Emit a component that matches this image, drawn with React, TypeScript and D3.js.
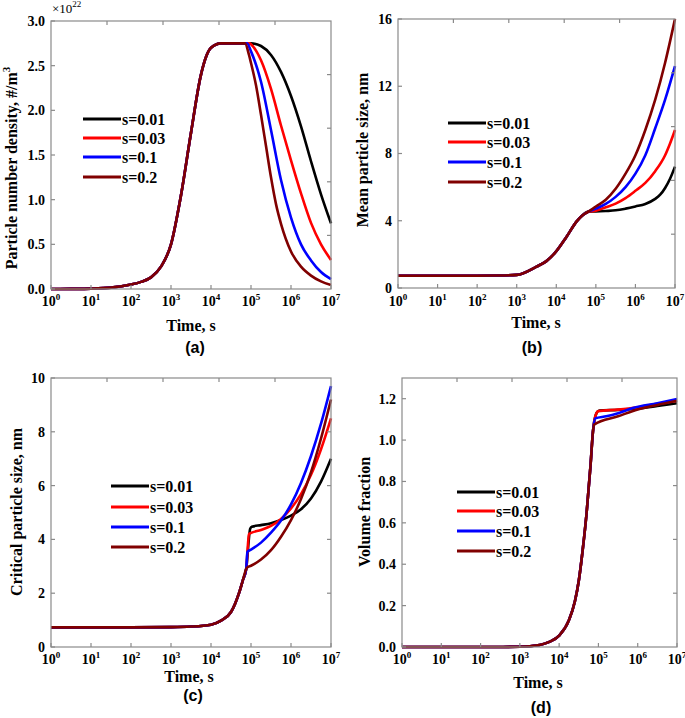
import React from 'react';
import * as d3 from 'd3';

// ---------- shared ----------
const seriesNames = ['s=0.01', 's=0.03', 's=0.1', 's=0.2'];
const seriesColors = ['#000000', '#ff0000', '#0000ff', '#800000'];
const decadeExponents = [0, 1, 2, 3, 4, 5, 6, 7];

// ---------- panel (a): particle number density (x1e22), [log10 t, value] ----------
const aCommon: [number, number][] = [[0, 0], [0.5, 0.001], [1, 0.004], [1.5, 0.015], [2, 0.05], [2.25, 0.08], [2.5, 0.13], [2.75, 0.25], [3, 0.5], [3.25, 1.05], [3.5, 1.75], [3.75, 2.4], [4, 2.7], [4.25, 2.75]];
const aS001: [number, number][] = [[5.0, 2.75], [5.25, 2.72], [5.5, 2.62], [5.75, 2.43], [6.0, 2.16], [6.25, 1.82], [6.5, 1.43], [6.75, 1.06], [7.0, 0.735]];
const aS003: [number, number][] = [[4.97, 2.75], [5.0, 2.74], [5.25, 2.56], [5.5, 2.24], [5.75, 1.83], [6.0, 1.44], [6.25, 1.07], [6.5, 0.74], [6.75, 0.5], [7.0, 0.325]];
const aS01: [number, number][] = [[4.9, 2.75], [5.0, 2.66], [5.25, 2.32], [5.5, 1.78], [5.75, 1.22], [6.0, 0.8], [6.25, 0.5], [6.5, 0.32], [6.75, 0.19], [7.0, 0.11]];
const aS02: [number, number][] = [[4.85, 2.75], [4.95, 2.62], [5.0, 2.53], [5.125, 2.28], [5.25, 1.95], [5.375, 1.6], [5.5, 1.25], [5.625, 0.95], [5.75, 0.73], [6.0, 0.42], [6.25, 0.25], [6.5, 0.15], [6.75, 0.085], [7.0, 0.045]];
const aYTicks = [0, 0.5, 1.0, 1.5, 2.0, 2.5, 3.0];

// ---------- panel (b): mean particle size, nm ----------
const bCommon: [number, number][] = [[0, 0.73], [1, 0.73], [2, 0.73], [2.5, 0.74], [3, 0.78], [3.5, 1.27], [3.75, 1.6], [3.96, 2.07], [4.26, 3.05], [4.51, 3.95], [4.65, 4.3], [4.81, 4.54]];
const bS001: [number, number][] = [[5.0, 4.55], [5.25, 4.58], [5.5, 4.62], [5.75, 4.72], [6.0, 4.85], [6.25, 5.0], [6.5, 5.3], [6.625, 5.55], [6.75, 5.95], [6.875, 6.5], [7.0, 7.22]];
const bS003: [number, number][] = [[5.0, 4.6], [5.25, 4.8], [5.5, 5.02], [5.75, 5.35], [6.0, 5.78], [6.25, 6.25], [6.5, 6.95], [6.75, 7.9], [6.875, 8.6], [7.0, 9.4]];
const bS01: [number, number][] = [[5.0, 4.72], [5.25, 5.0], [5.5, 5.42], [5.75, 6.0], [6.0, 6.8], [6.25, 7.9], [6.5, 9.5], [6.75, 11.2], [7.0, 13.2]];
const bS02: [number, number][] = [[5.0, 4.85], [5.25, 5.25], [5.5, 5.9], [5.75, 6.8], [6.0, 7.9], [6.25, 9.4], [6.5, 11.2], [6.75, 13.4], [7.0, 16.0]];
const bYTicks = [0, 4, 8, 12, 16];

// ---------- panel (c): critical particle size, nm ----------
const cCommon: [number, number][] = [[0, 0.73], [1, 0.73], [2, 0.73], [3, 0.74], [3.5, 0.76], [4, 0.83], [4.25, 0.98], [4.5, 1.3], [4.6, 1.6], [4.7, 2.0], [4.8, 2.5], [4.88, 2.9]];
const cS001: [number, number][] = [[4.98, 4.4], [5.02, 4.47], [5.25, 4.53], [5.5, 4.6], [5.75, 4.72], [6.0, 4.88], [6.25, 5.12], [6.5, 5.52], [6.75, 6.15], [7.0, 7.0]];
const cS003: [number, number][] = [[4.95, 4.2], [5.0, 4.24], [5.25, 4.35], [5.5, 4.5], [5.75, 4.76], [6.0, 5.15], [6.25, 5.68], [6.5, 6.4], [6.75, 7.35], [7.0, 8.5]];
const cS01: [number, number][] = [[4.91, 3.54], [5.0, 3.62], [5.25, 3.88], [5.5, 4.25], [5.75, 4.7], [6.0, 5.3], [6.25, 6.1], [6.5, 7.1], [6.75, 8.3], [7.0, 9.7]];
const cS02: [number, number][] = [[4.9, 2.95], [5.0, 3.02], [5.25, 3.25], [5.5, 3.6], [5.75, 4.1], [6.0, 4.72], [6.25, 5.5], [6.5, 6.5], [6.75, 7.75], [7.0, 9.2]];
const cYTicks = [0, 2, 4, 6, 8, 10];

// ---------- panel (d): volume fraction ----------
const dCommon: [number, number][] = [[0, 0], [1, 0], [2, 0], [3, 0.001], [3.5, 0.01], [3.75, 0.025], [4, 0.055], [4.25, 0.13], [4.4, 0.22], [4.5, 0.32], [4.6, 0.47], [4.7, 0.65], [4.8, 0.88], [4.86, 1.04]];
const dS001: [number, number][] = [[4.95, 1.13], [5.02, 1.143], [5.5, 1.146], [6, 1.152], [6.5, 1.165], [7, 1.178]];
const dS003: [number, number][] = [[4.95, 1.13], [5.0, 1.14], [5.5, 1.147], [6, 1.158], [6.5, 1.175], [7, 1.19]];
const dS01: [number, number][] = [[4.92, 1.105], [5.2, 1.115], [5.5, 1.13], [5.88, 1.155], [6.5, 1.178], [7, 1.198]];
const dS02: [number, number][] = [[4.89, 1.075], [5.5, 1.115], [6.0, 1.148], [6.5, 1.17], [7, 1.19]];
const dYTicks = [0, 0.2, 0.4, 0.6, 0.8, 1.0, 1.2];

const SERIF = "'Liberation Serif', 'Times New Roman', serif";
const SANS = "'Liberation Sans', Arial, sans-serif";
const AXIS_GRAY = '#8a8a8a';

type PanelCfg = {
  left: number; right: number; top: number; bottom: number;
  yDomain: [number, number]; yTicks: number[]; yFmt: (v: number) => string;
  common: [number, number][]; tails: [number, number][][];
  yLabel: React.ReactNode; yLabelX: number; yLabelY: number;
  xTickY: number; timeY: number; timeX: number;
  tag: string; tagX: number; tagY: number;
  legX: number; legY: number[];
  extra?: React.ReactNode;
};

function Panel({ c }: { c: PanelCfg }) {
  const x = d3.scaleLog().domain([1, 1e7]).range([c.left, c.right]);
  const y = d3.scaleLinear().domain(c.yDomain).range([c.bottom, c.top]);
  const xFrac = d3.scaleLinear().domain([0, 5]).range([c.left, c.right]);
  const yFrac = d3.scaleLinear().domain([0, 5]).range([c.bottom, c.top]);
  const line = d3.line<[number, number]>()
    .x(d => x(Math.pow(10, d[0])))
    .y(d => y(d[1]))
    .curve(d3.curveMonotoneX);
  const tl = 4;
  return (
    <g>
      {c.tails.map((tail, i) => (
        <path key={i} d={line(c.common.concat(tail)) || ''} fill="none"
          stroke={seriesColors[i]} strokeWidth={2.6} strokeLinejoin="round" />
      ))}
      <rect x={c.left} y={c.top} width={c.right - c.left} height={c.bottom - c.top}
        fill="none" stroke={AXIS_GRAY} strokeWidth={1.2} />
      {decadeExponents.map(e => {
        const px = x(Math.pow(10, e));
        return (
          <g key={'b' + e}>
            <line x1={px} x2={px} y1={c.bottom} y2={c.bottom - tl} stroke={AXIS_GRAY} strokeWidth={1.2} />
            <text x={px} y={c.xTickY} textAnchor="middle" fontFamily={SERIF} fontWeight="bold" fontSize={14}>
              10<tspan dy={-6} fontSize={9}>{e}</tspan>
            </text>
          </g>
        );
      })}
      {[1, 2, 3, 4].map(i => (
        <line key={'t' + i} x1={xFrac(i)} x2={xFrac(i)} y1={c.top} y2={c.top + tl} stroke={AXIS_GRAY} strokeWidth={1.2} />
      ))}
      {[1, 2, 3, 4].map(i => (
        <line key={'r' + i} x1={c.right} x2={c.right - tl} y1={yFrac(i)} y2={yFrac(i)} stroke={AXIS_GRAY} strokeWidth={1.2} />
      ))}
      {c.yTicks.map(v => (
        <g key={'l' + v}>
          <line x1={c.left} x2={c.left + tl} y1={y(v)} y2={y(v)} stroke={AXIS_GRAY} strokeWidth={1.2} />
          <text x={c.left - 6} y={y(v)} dy="0.35em" textAnchor="end" fontFamily={SERIF} fontWeight="bold" fontSize={14}>
            {c.yFmt(v)}
          </text>
        </g>
      ))}
      <text transform={`translate(${c.yLabelX},${c.yLabelY}) rotate(-90)`} textAnchor="middle"
        fontFamily={SERIF} fontWeight="bold" fontSize={16}>{c.yLabel}</text>
      <text x={c.timeX} y={c.timeY} textAnchor="middle" fontFamily={SERIF} fontWeight="bold" fontSize={16}>Time, s</text>
      <text x={c.tagX} y={c.tagY} textAnchor="middle" fontFamily={SANS} fontWeight="bold" fontSize={16}>{c.tag}</text>
      {seriesNames.map((n, i) => (
        <g key={n}>
          <line x1={c.legX} x2={c.legX + 38} y1={c.legY[i]} y2={c.legY[i]} stroke={seriesColors[i]} strokeWidth={2.8} />
          <text x={c.legX + 39} y={c.legY[i]} dy="0.35em" fontFamily={SERIF} fontWeight="bold" fontSize={16}>{n}</text>
        </g>
      ))}
      {c.extra}
    </g>
  );
}

export default function App() {
  const f1 = (v: number) => v.toFixed(1);
  const f0 = (v: number) => String(v);
  const panels: PanelCfg[] = [
    {
      left: 51, right: 331, top: 21, bottom: 289, yDomain: [0, 3], yTicks: aYTicks, yFmt: f1,
      common: aCommon, tails: [aS001, aS003, aS01, aS02],
      yLabel: <>Particle number density, #/m<tspan dy={-7} fontSize={11}>3</tspan></>,
      yLabelX: 17, yLabelY: 168, xTickY: 306, timeY: 331, timeX: 191, tag: '(a)', tagX: 195, tagY: 353,
      legX: 83, legY: [119, 138, 157, 177],
      extra: (
        <text x={52} y={13} fontFamily={SERIF} fontSize={13}>×10<tspan dy={-6} fontSize={9}>22</tspan></text>
      ),
    },
    {
      left: 398, right: 675, top: 19, bottom: 288, yDomain: [0, 16], yTicks: bYTicks, yFmt: f0,
      common: bCommon, tails: [bS001, bS003, bS01, bS02],
      yLabel: <>Mean particle size, nm</>,
      yLabelX: 368, yLabelY: 150, xTickY: 306, timeY: 328, timeX: 536, tag: '(b)', tagX: 532, tagY: 353,
      legX: 448, legY: [123, 142, 162, 182],
    },
    {
      left: 51, right: 331, top: 378, bottom: 647, yDomain: [0, 10], yTicks: cYTicks, yFmt: f0,
      common: cCommon, tails: [cS001, cS003, cS01, cS02],
      yLabel: <>Critical particle size, nm</>,
      yLabelX: 22, yLabelY: 512, xTickY: 664, timeY: 682, timeX: 189, tag: '(c)', tagX: 193, tagY: 701,
      legX: 111, legY: [486, 507, 527, 547],
    },
    {
      left: 402, right: 677, top: 378, bottom: 647, yDomain: [0, 1.3], yTicks: dYTicks, yFmt: f1,
      common: dCommon, tails: [dS001, dS003, dS01, dS02],
      yLabel: <>Volume fraction</>,
      yLabelX: 370, yLabelY: 512, xTickY: 664, timeY: 688, timeX: 538, tag: '(d)', tagX: 541, tagY: 713,
      legX: 457, legY: [492, 511, 531, 551],
    },
  ];
  return (
    <svg width={685} height={718} style={{ position: 'absolute', left: 0, top: 0, background: '#fff' }}>
      <rect width={685} height={718} fill="#fff" />
      {panels.map((p, i) => <Panel key={i} c={p} />)}
    </svg>
  );
}
